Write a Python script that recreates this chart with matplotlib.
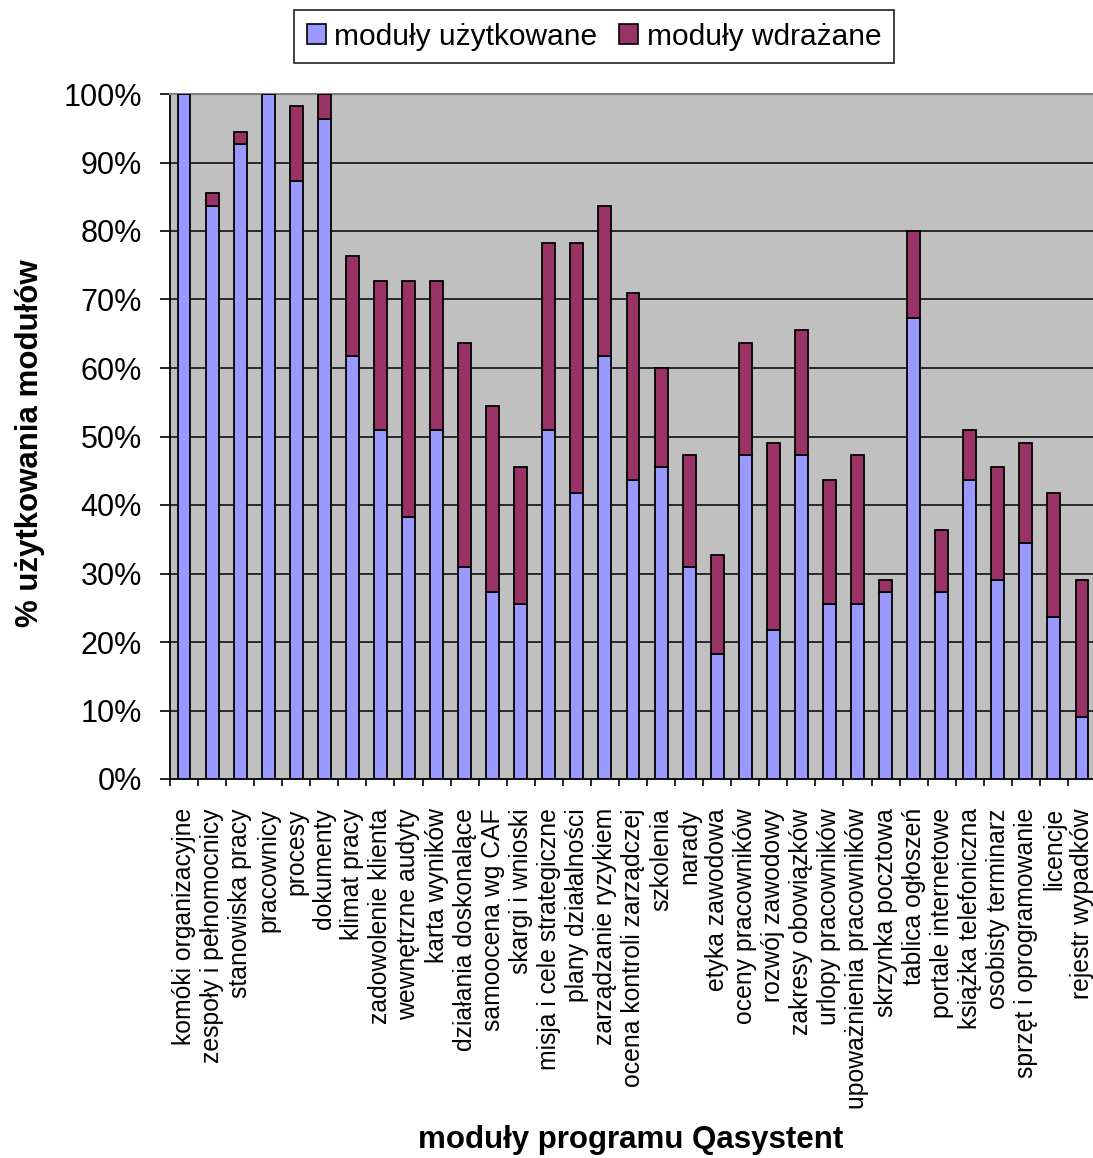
import matplotlib
matplotlib.use("Agg")
import matplotlib.pyplot as plt
import numpy as np
from matplotlib.patches import Patch

plt.rcParams['font.family'] = ['Liberation Sans', 'DejaVu Sans']

# module names (x axis)
modules = [
    "komóki organizacyjne", "zespoły i pełnomocnicy", "stanowiska pracy",
    "pracownicy", "procesy", "dokumenty", "klimat pracy",
    "zadowolenie klienta", "wewnętrzne audyty", "karta wyników",
    "działania doskonalące", "samoocena wg CAF", "skargi i wnioski",
    "misja i cele strategiczne", "plany działalności", "zarządzanie ryzykiem",
    "ocena kontroli zarządczej", "szkolenia", "narady", "etyka zawodowa",
    "oceny pracowników", "rozwój zawodowy", "zakresy obowiązków",
    "urlopy pracowników", "upoważnienia pracowników", "skrzynka pocztowa",
    "tablica ogłoszeń", "portale internetowe", "książka telefoniczna",
    "osobisty terminarz", "sprzęt i oprogramowanie", "licencje",
    "rejestr wypadków",
]

# % of modules in use
used = [100, 83.6, 92.7, 100, 87.3, 96.4, 61.8, 50.9, 38.2, 50.9,
        30.9, 27.3, 25.5, 50.9, 41.8, 61.8, 43.6, 45.5, 30.9, 18.2,
        47.3, 21.8, 47.3, 25.5, 25.5, 27.3, 67.3, 27.3, 43.6, 29.1,
        34.5, 23.6, 9.1]
# % of modules being implemented (stacked on top)
implementing = [0, 1.9, 1.8, 0, 10.9, 3.6, 14.6, 21.8, 34.5, 21.8,
                32.7, 27.2, 20.0, 27.3, 36.4, 21.8, 27.3, 14.5, 16.4, 14.5,
                16.3, 27.3, 18.2, 18.1, 21.8, 1.8, 12.7, 9.1, 7.3, 16.4,
                14.6, 18.2, 20.0]

yticks = [0, 10, 20, 30, 40, 50, 60, 70, 80, 90, 100]
ytick_labels = [f"{v}%" for v in yticks]

c_used = "#9999FF"
c_impl = "#993366"

fig = plt.figure(figsize=(10.93, 11.58), dpi=100)
ax = fig.add_axes([170 / 1093, 379 / 1158, 926 / 1093, 685 / 1158])
ax.set_facecolor("#C0C0C0")

x = np.arange(len(modules))
w = 0.46
ax.bar(x, used, w, color=c_used, edgecolor="black", linewidth=1.3, zorder=3)
ax.bar(x, implementing, w, bottom=used, color=c_impl, edgecolor="black",
       linewidth=1.3, zorder=3)

ax.set_xlim(-0.5, len(modules) - 0.5)
ax.set_ylim(0, 100)

# gridlines
for v in yticks[1:-1]:
    ax.axhline(v, color="black", linewidth=1.1, zorder=1)

ax.set_yticks(yticks)
ax.set_yticklabels(ytick_labels, fontsize=22)
ax.tick_params(axis="y", direction="out", length=7.2, width=1.2, pad=13)

# labels at category centres, tick marks at category boundaries
ax.set_xticks(x)
ax.set_xticklabels(modules, rotation=90, fontsize=17.8, va="top", ha="center")
ax.tick_params(axis="x", which="major", length=0, pad=21)
ax.set_xticks(np.arange(-0.5, len(modules), 1.0), minor=True)
ax.tick_params(axis="x", which="minor", direction="out", length=5, width=1.2)

for side in ["left", "bottom"]:
    ax.spines[side].set_color("black")
    ax.spines[side].set_linewidth(1.3)
ax.spines["top"].set_color("#808080")
ax.spines["top"].set_linewidth(1.5)
ax.spines["right"].set_color("#808080")

fig.text(30 / 1093, 1 - 443 / 1158, "% użytkowania modułów", rotation=90,
         fontsize=22.5, fontweight="bold", ha="center", va="center")
fig.text(631 / 1093, 1 - 1140 / 1158, "moduły programu Qasystent",
         fontsize=22.5, fontweight="bold", ha="center", va="center")

handles = [Patch(facecolor=c_used, edgecolor="black", linewidth=1.2),
           Patch(facecolor=c_impl, edgecolor="black", linewidth=1.2)]
leg = fig.legend(handles, ["moduły użytkowane", "moduły wdrażane"],
                 loc="upper center", bbox_to_anchor=(594 / 1093, 1 - 10 / 1158),
                 ncol=2, fontsize=21.5, frameon=True, fancybox=False,
                 handlelength=0.65, handleheight=0.65, handletextpad=0.28,
                 columnspacing=0.72, borderpad=0.42, borderaxespad=0)
leg.get_frame().set_edgecolor("black")
leg.get_frame().set_linewidth(1.3)

fig.savefig("out.png", dpi=100)
